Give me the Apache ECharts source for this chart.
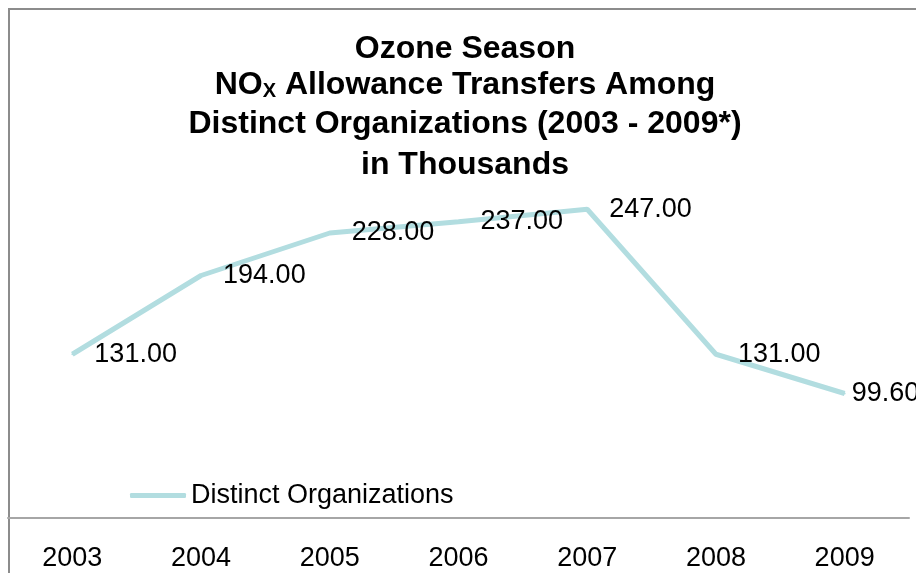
<!DOCTYPE html>
<html>
<head>
<meta charset="utf-8">
<script src="https://cdn.jsdelivr.net/npm/echarts@6/dist/echarts.min.js"></script>
<style>
  html, body { margin:0; padding:0; background:#fff; }
  #chart { width:916px; height:573px; }
</style>
</head>
<body>
<div id="chart"></div>
<script>
var years = ["2003","2004","2005","2006","2007","2008","2009"];
var transfers = [131.00, 194.00, 228.00, 237.00, 247.00, 131.00, 99.60];
var seriesName = "Distinct Organizations";
var titleLines = [
  "Ozone Season",
  "{b|NO}{sub|X}{b| Allowance Transfers Among}",
  "Distinct Organizations (2003 - 2009*)",
  "in Thousands"
];

var font = "'Liberation Sans', Arial, sans-serif";
var lineColor = "#b2dde0";
var chart = echarts.init(document.getElementById("chart"));

var titleRich = {
  b: { fontFamily: font, fontSize: 32, fontWeight: "bold", fill: "#000" },
  sub: { fontFamily: font, fontSize: 20, fontWeight: "bold", fill: "#000", verticalAlign: "bottom", padding: [13, 0, 0, 0] }
};
var titleY = [49, 85, 124, 165];

var graphics = [{
  type: "rect",
  shape: { x: 9, y: 9, width: 1000, height: 1000 },
  style: { fill: null, stroke: "#8c8c8c", lineWidth: 2 },
  silent: true
}];
titleLines.forEach(function(t, i){
  graphics.push({
    type: "text",
    x: 465,
    y: titleY[i],
    silent: true,
    style: {
      text: t,
      rich: titleRich,
      font: "bold 32px " + font,
      fill: "#000",
      align: "center",
      verticalAlign: "middle"
    }
  });
});

// last label sits close to its point, as in the original
var seriesData = transfers.map(function(v, i){
  var d = { value: v };
  if (i === transfers.length - 1) d.label = { distance: 6 };
  return d;
});

chart.setOption({
  backgroundColor: "#fff",
  animation: false,
  graphic: graphics,
  legend: {
    left: 125,
    top: 477,
    itemWidth: 56,
    itemHeight: 5,
    icon: "roundRect",
    textStyle: { fontFamily: font, fontSize: 27, color: "#000" },
    data: [seriesName]
  },
  grid: { left: 8, right: 7, top: 143, bottom: 55 },
  xAxis: {
    type: "category",
    data: years,
    boundaryGap: true,
    axisLine: { lineStyle: { color: "#a6a6a6", width: 2 } },
    axisTick: { show: false },
    axisLabel: { fontFamily: font, fontSize: 27, color: "#000", margin: 27 }
  },
  yAxis: {
    type: "value",
    min: 0,
    max: 300,
    show: false,
    splitLine: { show: false }
  },
  series: [{
    name: seriesName,
    type: "line",
    data: seriesData,
    symbol: "circle",
    symbolSize: 2,
    showSymbol: true,
    lineStyle: { color: lineColor, width: 5 },
    itemStyle: { color: lineColor },
    label: {
      show: true,
      position: "right",
      distance: 21,
      offset: [0, 6],
      fontFamily: font,
      fontSize: 27,
      color: "#000",
      formatter: function(p){ return p.value.toFixed(2); }
    },
    labelLayout: { hideOverlap: false }
  }]
});
</script>
</body>
</html>
